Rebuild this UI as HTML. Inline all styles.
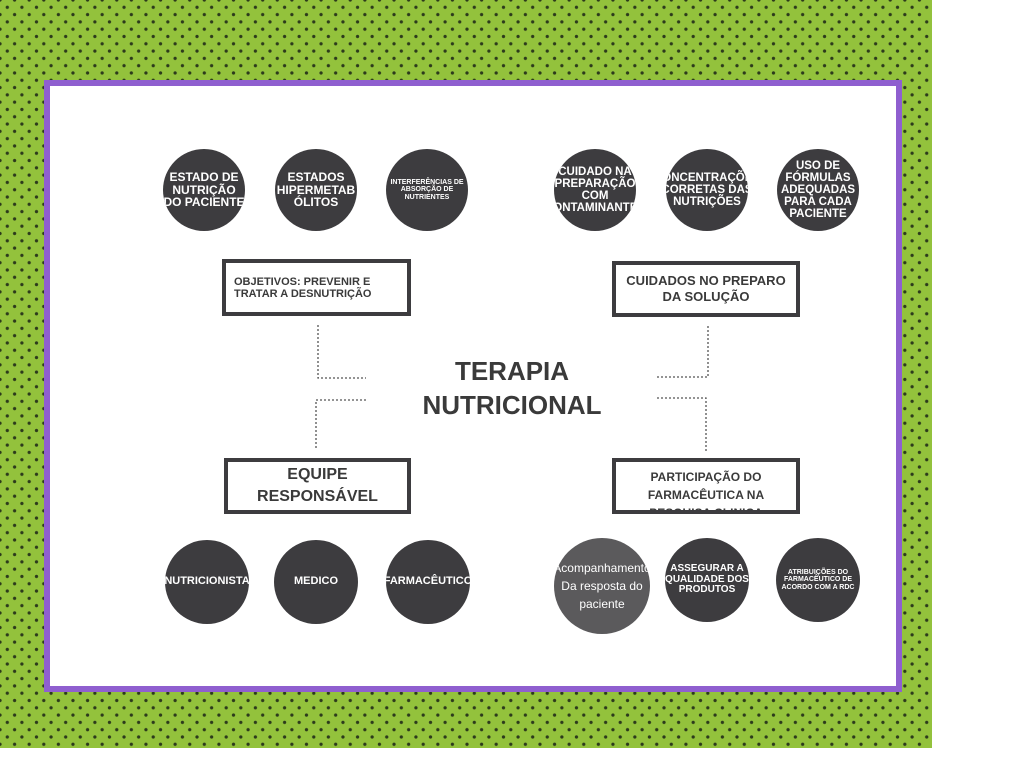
<!DOCTYPE html>
<html><head><meta charset="utf-8"><style>
body{margin:0;width:1024px;height:768px;background:#fff;position:relative;overflow:hidden;font-family:"Liberation Sans",sans-serif}
.bg{position:absolute;left:0;top:0;width:932px;height:748px;background-color:#93c23c;
background-image:radial-gradient(circle,#2c3a1c 1.4px,transparent 1.9px),radial-gradient(circle,#2c3a1c 1.4px,transparent 1.9px);
background-size:14.6px 14.6px;background-position:0 0,7.3px 7.3px}
.frame{position:absolute;left:44px;top:80px;width:846px;height:600px;border:6px solid #8f5fcf;background:#fff}
.c{position:absolute;border-radius:50%;background:#3d3c3f;color:#fff;font-weight:bold;display:flex;align-items:center;justify-content:center;text-align:center;overflow:hidden;line-height:1.05}
.b{position:absolute;border:4px solid #3d3c3f;background:#fff;color:#3a3a3a;font-weight:bold;display:flex;align-items:center;justify-content:center;text-align:center;overflow:hidden;box-sizing:border-box}
.t{position:absolute;left:412px;top:354px;width:200px;text-align:center;font-weight:bold;font-size:26px;line-height:34px;color:#3a3a3a}
</style></head><body>
<div class="bg"></div>
<div class="frame"></div>
<svg style="position:absolute;left:0;top:0" width="1024" height="768"><g stroke="#555" stroke-width="1.3" stroke-dasharray="2,2" fill="none">
<path d="M318 325V378H366"/><path d="M366 400H316V450"/><path d="M657 377H708V325"/><path d="M657 398H706V452"/></g></svg>
<div class="t">TERAPIA<br>NUTRICIONAL</div>
<div class="c" style="left:163px;top:149px;width:82px;height:82px;font-size:12px">ESTADO DE NUTRIÇÃO DO PACIENTE</div>
<div class="c" style="left:275px;top:149px;width:82px;height:82px;font-size:12px">ESTADOS HIPERMETAB ÓLITOS</div>
<div class="c" style="left:386px;top:149px;width:82px;height:82px;font-size:7px">INTERFERÊNCIAS DE ABSORÇÃO DE NUTRIENTES</div>
<div class="c" style="left:554px;top:149px;width:82px;height:82px;font-size:11.5px">CUIDADO NA PREPARAÇÃO COM CONTAMINANTES</div>
<div class="c" style="left:666px;top:149px;width:82px;height:82px;font-size:11.5px">CONCENTRAÇÕES CORRETAS DAS NUTRIÇÕES</div>
<div class="c" style="left:777px;top:149px;width:82px;height:82px;font-size:11.5px">USO DE FÓRMULAS ADEQUADAS PARA CADA PACIENTE</div>
<div class="b" style="left:222px;top:259px;width:189px;height:57px;font-size:11px;text-align:left;padding-left:8px">OBJETIVOS: PREVENIR E TRATAR A DESNUTRIÇÃO</div>
<div class="b" style="left:612px;top:261px;width:188px;height:56px;font-size:13px;line-height:16px">CUIDADOS NO PREPARO DA SOLUÇÃO</div>
<div class="b" style="left:224px;top:458px;width:187px;height:56px;font-size:16px;line-height:22px">EQUIPE RESPONSÁVEL</div>
<div class="b" style="left:612px;top:458px;width:188px;height:56px;font-size:12px;line-height:18px;padding-top:6px;align-items:flex-start">PARTICIPAÇÃO DO FARMACÊUTICA NA PESQUISA CLINICA</div>
<div class="c" style="left:165px;top:540px;width:84px;height:84px;font-size:11px">NUTRICIONISTA</div>
<div class="c" style="left:274px;top:540px;width:84px;height:84px;font-size:11px">MEDICO</div>
<div class="c" style="left:386px;top:540px;width:84px;height:84px;font-size:11px">FARMACÊUTICO</div>
<div class="c" style="left:554px;top:538px;width:96px;height:96px;background:#5b5a5c;font-weight:normal;font-size:12px;line-height:1.5">Acompanhamento Da resposta do paciente</div>
<div class="c" style="left:665px;top:538px;width:84px;height:84px;font-size:10px">ASSEGURAR A QUALIDADE DOS PRODUTOS</div>
<div class="c" style="left:776px;top:538px;width:84px;height:84px;font-size:7px">ATRIBUIÇÕES DO FARMACÊUTICO DE ACORDO COM A RDC</div>
</body></html>
